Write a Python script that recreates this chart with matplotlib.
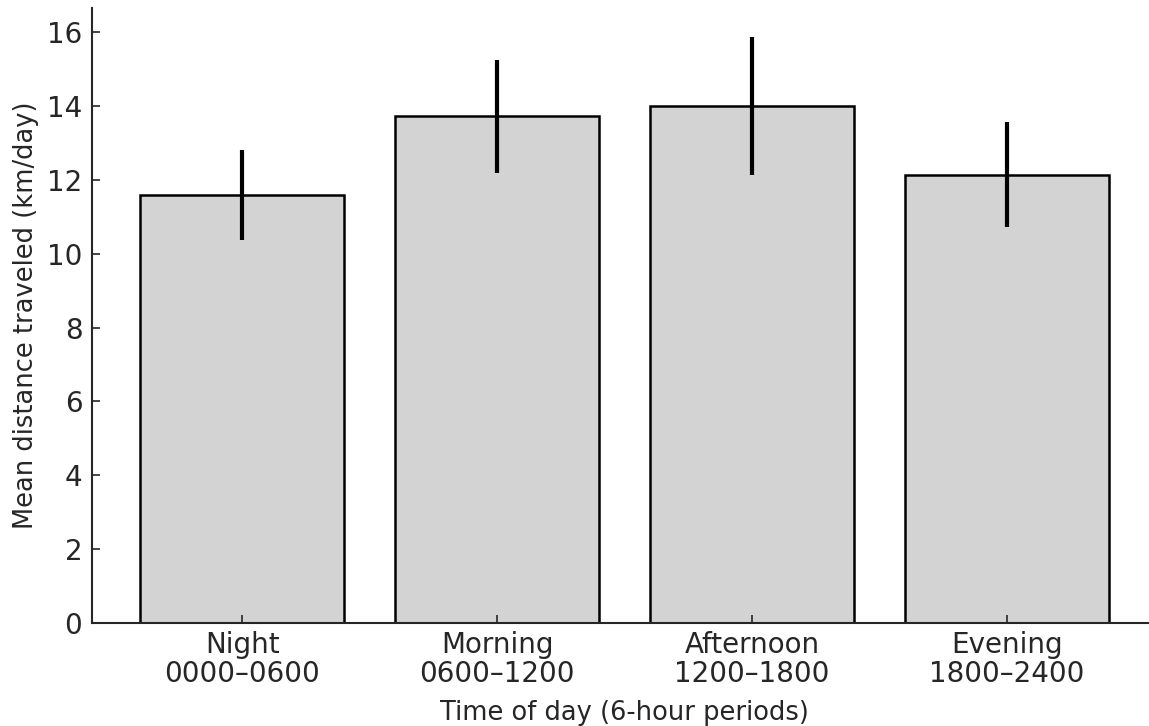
import matplotlib
matplotlib.use("Agg")
import matplotlib.pyplot as plt

categories = ["Night\n0000–0600", "Morning\n0600–1200", "Afternoon\n1200–1800", "Evening\n1800–2400"]
means = [11.6, 13.72, 14.0, 12.14]
errors = [1.22, 1.53, 1.86, 1.42]

text_color = "#262626"
plt.rcParams['font.family'] = ['DejaVu Sans']

fig = plt.figure(figsize=(11.49, 7.26), dpi=100)
W, H = 1149, 726
ax = fig.add_axes([92 / W, 103 / H, (1157 - 92) / W, (623 - 8) / H])

x = list(range(len(categories)))
ax.bar(x, means, width=0.8, color="#d3d3d3", edgecolor="black", linewidth=1.8,
       yerr=errors, error_kw=dict(ecolor="black", elinewidth=3, capsize=0))

ax.set_xticks(x)
ax.set_xticklabels(categories, linespacing=1.05)
ax.set_yticks(range(0, 17, 2))
ax.tick_params(direction="in", length=6, width=1.2, labelsize=20, colors=text_color,
               labelcolor=text_color)
ax.tick_params(axis="y", pad=7)
ax.tick_params(axis="x", pad=6)
ax.set_xlabel("Time of day (6-hour periods)", fontsize=18.5, color=text_color, labelpad=8)
ax.set_ylabel("Mean distance traveled (km/day)", fontsize=18.5, color=text_color)
ax.yaxis.set_label_coords(-0.05, 0.5)

for s in ["top", "right"]:
    ax.spines[s].set_visible(False)
for s in ["left", "bottom"]:
    ax.spines[s].set_linewidth(1.5)
    ax.spines[s].set_color(text_color)

fig.savefig("out.png", dpi=100)
